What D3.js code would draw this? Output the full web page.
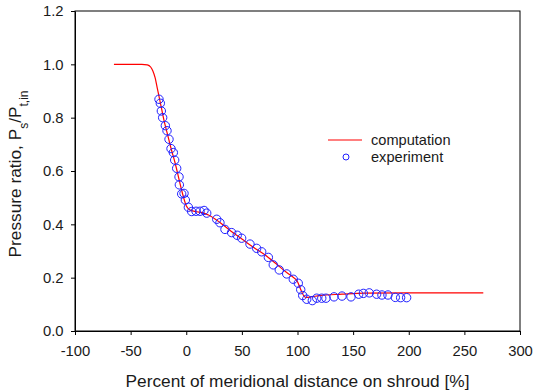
<!DOCTYPE html>
<html><head><meta charset="utf-8">
<script src="https://cdn.jsdelivr.net/npm/d3@7"></script>
<style>body{margin:0;background:#fff}svg{display:block}text{font-family:"Liberation Sans",Arial,sans-serif}</style>
</head><body><svg id="c" width="534" height="392"></svg>
<script>
const xTicks = [-100,-50,0,50,100,150,200,250,300];
const yTicks = [0.0,0.2,0.4,0.6,0.8,1.0,1.2];
const compX = [-65,-40,-35,-32,-30,-28,-26,-24,-22,-20,-17,-14,-10,-6,-3,0,3,8,15,20,30,40,50,60,70,80,90,95,100,103,106,108,112,120,140,160,200,267];
const compY = [1.0,1.0,0.998,0.99,0.975,0.95,0.91,0.87,0.83,0.79,0.74,0.69,0.63,0.56,0.51,0.47,0.455,0.448,0.443,0.435,0.408,0.375,0.345,0.315,0.288,0.255,0.22,0.205,0.185,0.155,0.13,0.126,0.128,0.133,0.138,0.142,0.143,0.143];
const expX = [-24.5,-23.3,-22.4,-21.2,-18.8,-17.3,-15.5,-13.7,-11.6,-10.4,-8.6,-6.5,-6.2,-4.1,-2.0,-0.8,1.9,4.9,8.8,12.4,16.0,18.4,27.4,30.3,34.8,40.8,45.8,49.8,57.3,63.3,67.8,73.8,78.2,83.6,90.3,96.2,100.7,102.9,104.7,108.3,113.3,117.3,121.8,125.6,132.8,140.0,148.1,155.0,159.2,164.5,171.1,175.9,181.3,187.9,192.7,198.1];
const expY = [0.869,0.854,0.825,0.800,0.770,0.751,0.719,0.684,0.669,0.641,0.610,0.578,0.548,0.514,0.516,0.491,0.464,0.448,0.449,0.449,0.452,0.442,0.419,0.406,0.381,0.369,0.359,0.348,0.326,0.310,0.297,0.276,0.248,0.229,0.214,0.194,0.179,0.155,0.133,0.119,0.114,0.123,0.123,0.123,0.128,0.131,0.128,0.138,0.141,0.143,0.138,0.135,0.135,0.126,0.125,0.125];

const svg = d3.select("#c");
const L=75,R=520,T=11,B=331;
const x = d3.scaleLinear().domain([-100,300]).range([L,R]);
const y = d3.scaleLinear().domain([0,1.2]).range([B,T]);
const txt="#1a1a1a";

svg.append("rect").attr("x",L).attr("y",T).attr("width",R-L).attr("height",B-T)
  .attr("fill","none").attr("stroke","#000").attr("stroke-width",1);

const xa = svg.append("g").attr("transform",`translate(0,${B})`)
  .call(d3.axisBottom(x).tickValues(xTicks).tickSize(4).tickSizeOuter(0).tickPadding(10.5).tickFormat(d=>String(d)));
const ya = svg.append("g").attr("transform",`translate(${L},0)`)
  .call(d3.axisLeft(y).tickValues(yTicks).tickSize(4).tickSizeOuter(0).tickPadding(7.5).tickFormat(d=>d.toFixed(1)));
[xa,ya].forEach(g=>{g.select(".domain").attr("stroke","#000");g.selectAll("line").attr("stroke","#000");
  g.selectAll("text").attr("font-size",14.8).attr("fill",txt).attr("font-family","Liberation Sans, Arial, sans-serif");});

const comp = compX.map((v,i)=>[v,compY[i]]);
svg.append("path").datum(comp).attr("fill","none").attr("stroke","#ff0000").attr("stroke-width",1.2)
  .attr("d",d3.line().x(d=>x(d[0])).y(d=>y(d[1])).curve(d3.curveMonotoneX));

const exp = expX.map((v,i)=>[v,expY[i]]);
svg.append("g").selectAll("circle").data(exp).join("circle")
  .attr("cx",d=>x(d[0])).attr("cy",d=>y(d[1])).attr("r",4.2)
  .attr("fill","none").attr("stroke","#2020ff").attr("stroke-width",1);

svg.append("line").attr("x1",328).attr("x2",362).attr("y1",140).attr("y2",140).attr("stroke","#ff0000").attr("stroke-width",1.2);
svg.append("text").attr("x",371).attr("y",145).attr("font-size",14.6).attr("fill",txt).text("computation");
svg.append("circle").attr("cx",346).attr("cy",157).attr("r",3).attr("fill","none").attr("stroke","#2020ff").attr("stroke-width",1);
svg.append("text").attr("x",371).attr("y",161.5).attr("font-size",14.6).attr("fill",txt).text("experiment");

svg.append("text").attr("x",(L+R)/2).attr("y",386.5).attr("text-anchor","middle").attr("font-size",17.3).attr("fill",txt)
  .text("Percent of meridional distance on shroud [%]");
const yt = svg.append("text").attr("transform","translate(21,174) rotate(-90)").attr("text-anchor","middle").attr("font-size",17.3).attr("fill",txt);
yt.append("tspan").text("Pressure ratio, P");
yt.append("tspan").attr("font-size",12).attr("baseline-shift","sub").text("s");
yt.append("tspan").text("/P");
yt.append("tspan").attr("font-size",12).attr("baseline-shift","sub").text("t,in");
</script></body></html>
